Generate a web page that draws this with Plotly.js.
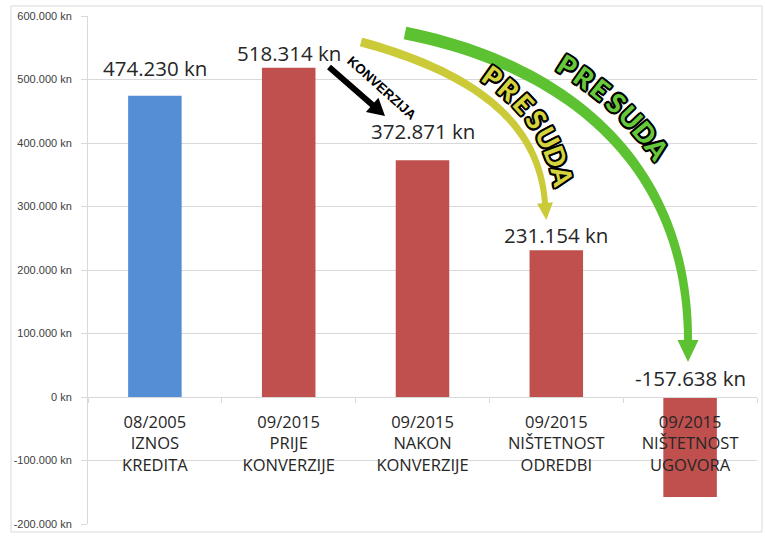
<!DOCTYPE html>
<html>
<head>
<meta charset="utf-8">
<script src="https://cdn.plot.ly/plotly-3.0.1.min.js"></script>
<style>html,body{margin:0;padding:0;background:#fff;}#chart{width:765px;height:537px;}</style>
</head>
<body>
<div id="chart"></div>
<script>
// ---- data ----
const categoryKeys = ['IZNOS KREDITA', 'PRIJE KONVERZIJE', 'NAKON KONVERZIJE', 'NIŠTETNOST ODREDBI', 'NIŠTETNOST UGOVORA'];
const categoryLabels = ['08/2005<br>IZNOS<br>KREDITA', '09/2015<br>PRIJE<br>KONVERZIJE', '09/2015<br>NAKON<br>KONVERZIJE', '09/2015<br>NIŠTETNOST<br>ODREDBI', '09/2015<br>NIŠTETNOST<br>UGOVORA'];
const values = [474230, 518314, 372871, 231154, -157638];
const yTickVals = [-200000, -100000, 0, 100000, 200000, 300000, 400000, 500000, 600000];
const arrowWords = ['KONVERZIJA', 'PRESUDA', 'PRESUDA'];

// ---- styles / positions ----
const barColors = ['#558ED5', '#C0504D', '#C0504D', '#C0504D', '#C0504D'];
const labelShift = [28, 15, 29, 15, 19];
const M = {l: 88, r: 8, t: 16, b: 13};
const W = 765, H = 537;
const PW = W - M.l - M.r, PH = H - M.t - M.b;
const fx = x => (x - M.l) / PW;
const fy = y => (H - M.b - y) / PH;

function fmt(v) {
  const s = Math.abs(v).toString().replace(/\B(?=(\d{3})+(?!\d))/g, '.');
  return (v < 0 ? '-' : '') + s + ' kn';
}

function bez(P, t) {
  const u = 1 - t;
  return [0, 1].map(k => u*u*u*P[0][k] + 3*u*u*t*P[1][k] + 3*u*t*t*P[2][k] + t*t*t*P[3][k]);
}
function dbez(P, t) {
  const u = 1 - t;
  const d = [0, 1].map(k => 3*(u*u*(P[1][k]-P[0][k]) + 2*u*t*(P[2][k]-P[1][k]) + t*t*(P[3][k]-P[2][k])));
  const L = Math.hypot(d[0], d[1]);
  return [d[0]/L, d[1]/L];
}
function pt(p) { return fx(p[0]).toFixed(5) + ',' + fy(p[1]).toFixed(5); }

function curvedArrow(P, hw0, hw1, headHalf, headLen) {
  const N = 48, left = [], right = [];
  for (let i = 0; i <= N; i++) {
    const t = i / N, b = bez(P, t), d = dbez(P, t), n = [d[1], -d[0]];
    const hw = hw0 + (hw1 - hw0) * t;
    left.push([b[0] + hw*n[0], b[1] + hw*n[1]]);
    right.push([b[0] - hw*n[0], b[1] - hw*n[1]]);
  }
  const E = bez(P, 1), d1 = dbez(P, 1), n1 = [d1[1], -d1[0]];
  const c1 = [E[0] + headHalf*n1[0], E[1] + headHalf*n1[1]];
  const c2 = [E[0] - headHalf*n1[0], E[1] - headHalf*n1[1]];
  const tip = [E[0] + headLen*d1[0], E[1] + headLen*d1[1]];
  let path = 'M' + pt(left[0]);
  for (let i = 1; i < left.length; i++) path += 'L' + pt(left[i]);
  path += 'L' + pt(c1) + 'L' + pt(tip) + 'L' + pt(c2);
  for (let i = right.length - 1; i >= 0; i--) path += 'L' + pt(right[i]);
  return path + 'Z';
}

function textOnCurve(P, word, t0, t1, off, font) {
  const S = 300, pts = [], lens = [0];
  for (let i = 0; i <= S; i++) {
    const t = t0 + (t1 - t0) * i / S, b = bez(P, t), d = dbez(P, t);
    pts.push({p: [b[0] + off*d[1], b[1] - off*d[0]], a: Math.atan2(d[1], d[0]) * 180 / Math.PI});
    if (i > 0) lens.push(lens[i-1] + Math.hypot(pts[i].p[0]-pts[i-1].p[0], pts[i].p[1]-pts[i-1].p[1]));
  }
  const total = lens[S], out = [], chars = word.split('');
  chars.forEach((ch, k) => {
    const target = total * k / (chars.length - 1);
    let j = 0; while (j < S && lens[j] < target) j++;
    const q = pts[j];
    out.push({xref: 'paper', yref: 'paper', x: fx(q.p[0]), y: fy(q.p[1]), text: ch, showarrow: false,
      textangle: q.a, xanchor: 'center', yanchor: 'middle', font: font});
  });
  return out;
}

const outline = '-1.7px -1.7px 0 #000, 1.7px -1.7px 0 #000, -1.7px 1.7px 0 #000, 1.7px 1.7px 0 #000, 0 2px 0 #000, 0 -2px 0 #000, 2px 0 0 #000, -2px 0 0 #000';

const yellowP = [[361, 42], [501, 80], [540, 140], [545, 203]];
const greenP = [[405, 33], [575, 67], [688, 170], [688, 340]];

const shapes = [
  {type: 'rect', xref: 'paper', yref: 'paper', x0: fx(11), x1: fx(762), y0: fy(532), y1: fy(6),
   line: {color: '#d9d9d9', width: 1}, fillcolor: 'rgba(0,0,0,0)', layer: 'below'},
  {type: 'path', xref: 'paper', yref: 'paper', path: curvedArrow(greenP, 6.5, 4, 10.5, 22),
   fillcolor: '#5DC232', line: {width: 0}},
  {type: 'path', xref: 'paper', yref: 'paper', path: curvedArrow(yellowP, 4.5, 3, 8, 17),
   fillcolor: '#CBCA38', line: {width: 0}}
];

// black straight arrow (KONVERZIJA)
(function () {
  const tail = [329, 67], tip = [385, 116];
  const L = Math.hypot(tip[0]-tail[0], tip[1]-tail[1]);
  const d = [(tip[0]-tail[0])/L, (tip[1]-tail[1])/L], n = [d[1], -d[0]];
  const base = [tip[0] - 17*d[0], tip[1] - 17*d[1]];
  const sw = 3, hh = 9.5;
  const p = [
    [tail[0]+sw*n[0], tail[1]+sw*n[1]], [base[0]+sw*n[0], base[1]+sw*n[1]],
    [base[0]+hh*n[0], base[1]+hh*n[1]], tip,
    [base[0]-hh*n[0], base[1]-hh*n[1]], [base[0]-sw*n[0], base[1]-sw*n[1]],
    [tail[0]-sw*n[0], tail[1]-sw*n[1]]
  ];
  shapes.push({type: 'path', xref: 'paper', yref: 'paper', path: 'M' + p.map(pt).join('L') + 'Z',
    fillcolor: '#000', line: {width: 0}});
})();

const annotations = values.map((v, i) => ({
  x: categoryKeys[i], y: Math.max(v, 0), xref: 'x', yref: 'y', text: fmt(v), showarrow: false,
  yanchor: 'middle', xanchor: 'center', yshift: labelShift[i],
  font: {family: 'Open Sans, sans-serif', size: 20.5, color: '#262626'}
}));

annotations.push({xref: 'paper', yref: 'paper', x: fx(381), y: fy(88), text: arrowWords[0], showarrow: false,
  textangle: 42, xanchor: 'center', yanchor: 'middle',
  font: {family: 'Liberation Sans, Arial, sans-serif', size: 13.5, weight: 'bold', color: '#000'}});

const presFontY = {family: 'Lato, sans-serif', size: 27, weight: 900, color: '#D6D43E', shadow: outline};
const presFontG = {family: 'Lato, sans-serif', size: 27, weight: 900, color: '#66C83A', shadow: outline};
annotations.push(...textOnCurve(yellowP, arrowWords[1], 0.38, 0.88, 21, presFontY));
annotations.push(...textOnCurve(greenP, arrowWords[2], 0.33, 0.59, 28, presFontG));

const trace = {
  type: 'bar', x: categoryKeys, y: values,
  marker: {color: barColors, line: {width: 0}},
  hoverinfo: 'none'
};

const layout = {
  width: W, height: H,
  margin: M,
  paper_bgcolor: '#fff', plot_bgcolor: '#fff',
  showlegend: false,
  bargap: 0.6,
  xaxis: {
    type: 'category', anchor: 'free', position: (0 - (-200000)) / 800000,
    tickvals: categoryKeys, ticktext: categoryLabels,
    tickson: 'boundaries', ticks: 'outside', ticklen: 5, tickcolor: '#d9d9d9',
    showline: true, linecolor: '#d9d9d9', showgrid: false, zeroline: false,
    tickfont: {family: 'Open Sans, sans-serif', size: 16.5, color: '#262626'},
    ticklabelstandoff: 10,
    range: [-0.5, 4.5], fixedrange: true
  },
  yaxis: {
    range: [-200000, 600000],
    tickvals: yTickVals, ticktext: yTickVals.map(fmt),
    ticks: 'outside', ticklen: 6, tickcolor: '#d9d9d9',
    showline: true, linecolor: '#d9d9d9',
    showgrid: true, gridcolor: '#d9d9d9', gridwidth: 1,
    zeroline: true, zerolinecolor: '#d9d9d9', zerolinewidth: 1,
    tickfont: {family: 'Liberation Sans Narrow, Liberation Sans, sans-serif', size: 11, color: '#404040'},
    ticklabelstandoff: 7, fixedrange: true
  },
  shapes: shapes,
  annotations: annotations
};

Plotly.newPlot('chart', [trace], layout, {displayModeBar: false, staticPlot: true});
</script>
</body>
</html>
